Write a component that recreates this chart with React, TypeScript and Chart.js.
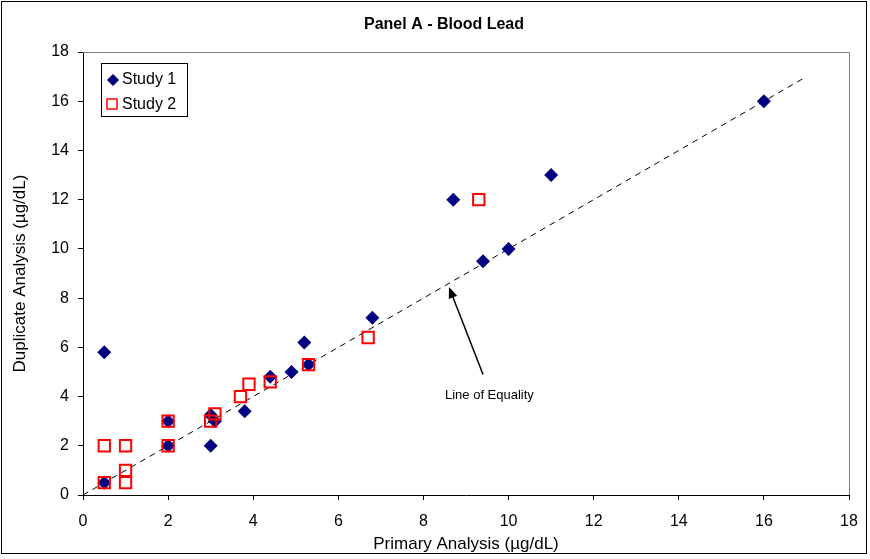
import React, { useEffect, useRef } from 'react';
import { Chart, registerables } from 'chart.js';

Chart.register(...registerables);

const study1X = [0.5, 0.5, 2, 2, 3, 3.0, 3.1, 3.8, 4.4, 4.9, 5.2, 5.3, 6.8, 8.7, 9.4, 10, 11, 16];
const study1Y = [5.8, 0.5, 3, 2, 2, 3.25, 3.0, 3.4, 4.8, 5.0, 6.2, 5.3, 7.2, 12, 9.5, 10, 13, 16];
const study2X = [0.5, 0.5, 1, 1, 1, 2, 2, 3, 3.1, 3.7, 3.9, 4.4, 5.3, 6.7, 9.3];
const study2Y = [2, 0.5, 2, 1, 0.5, 3, 2, 3, 3.3, 4.0, 4.5, 4.6, 5.3, 6.4, 12];
const equalityX = [0, 17];
const equalityY = [0, 17];
const seriesNames = ['Study 1', 'Study 2'];
const chartTitle = 'Panel A - Blood Lead';
const xTitle = 'Primary Analysis (µg/dL)';
const yTitle = 'Duplicate Analysis (µg/dL)';
const annotationText = 'Line of Equality';
const arrowTip = { x: 8.6, y: 8.45 };
const arrowTail = { x: 9.4, y: 4.9 };
const annotationPos = { x: 9.55, y: 4.05 };
const axisMin = 0;
const axisMax = 18;
const axisStep = 2;

const NAVY = '#000080';
const RED = '#FF0000';
const FONT = 'Arial, "Liberation Sans", sans-serif';

const toPoints = (xs: number[], ys: number[]) => xs.map((x, i) => ({ x, y: ys[i] }));

const decorPlugin = {
  id: 'decor',
  beforeDraw(chart: any) {
    const ctx = chart.ctx;
    ctx.save();
    ctx.fillStyle = '#ffffff';
    ctx.fillRect(0, 0, chart.width, chart.height);
    ctx.restore();
  },
  afterDatasetsDraw(chart: any) {
    const ctx = chart.ctx;
    const { chartArea } = chart;
    const xs = chart.scales.x;
    const ys = chart.scales.y;
    ctx.save();
    // plot area border (top / right)
    ctx.strokeStyle = '#808080';
    ctx.lineWidth = 1;
    ctx.beginPath();
    ctx.moveTo(chartArea.left, chartArea.top + 0.5);
    ctx.lineTo(chartArea.right + 0.5, chartArea.top + 0.5);
    ctx.lineTo(chartArea.right + 0.5, chartArea.bottom);
    ctx.stroke();

    // outer frame
    ctx.strokeStyle = '#000000';
    ctx.strokeRect(1.5, 1.5, 865, 552);

    // title
    ctx.fillStyle = '#000000';
    ctx.font = `bold 16px ${FONT}`;
    ctx.textAlign = 'center';
    ctx.textBaseline = 'middle';
    ctx.fillText(chartTitle, 444, 25);

    // axis titles
    ctx.font = `17px ${FONT}`;
    ctx.fillText(xTitle, (chartArea.left + chartArea.right) / 2, 544);
    ctx.save();
    ctx.translate(20, (chartArea.top + chartArea.bottom) / 2);
    ctx.rotate(-Math.PI / 2);
    ctx.fillText(yTitle, 0, 0);
    ctx.restore();

    // arrow annotation
    const tx = xs.getPixelForValue(arrowTip.x);
    const ty = ys.getPixelForValue(arrowTip.y);
    const fx = xs.getPixelForValue(arrowTail.x);
    const fy = ys.getPixelForValue(arrowTail.y);
    const ang = Math.atan2(ty - fy, tx - fx);
    const headLen = 11;
    const headW = 4.5;
    const bx = tx - Math.cos(ang) * headLen;
    const by = ty - Math.sin(ang) * headLen;
    ctx.strokeStyle = '#000000';
    ctx.lineWidth = 1.5;
    ctx.beginPath();
    ctx.moveTo(fx, fy);
    ctx.lineTo(bx, by);
    ctx.stroke();
    ctx.beginPath();
    ctx.moveTo(tx, ty);
    ctx.lineTo(bx + Math.sin(ang) * headW, by - Math.cos(ang) * headW);
    ctx.lineTo(bx - Math.sin(ang) * headW, by + Math.cos(ang) * headW);
    ctx.closePath();
    ctx.fill();
    ctx.font = `13px ${FONT}`;
    ctx.fillText(annotationText, xs.getPixelForValue(annotationPos.x), ys.getPixelForValue(annotationPos.y));

    // legend
    const lx = 101, ly = 63, lw = 86, lh = 53;
    ctx.fillStyle = '#ffffff';
    ctx.fillRect(lx, ly, lw, lh);
    ctx.strokeStyle = '#000000';
    ctx.lineWidth = 1;
    ctx.strokeRect(lx + 0.5, ly + 0.5, lw, lh);
    // diamond
    const dx = 113, dy = 80, dr = 6;
    ctx.fillStyle = NAVY;
    ctx.beginPath();
    ctx.moveTo(dx, dy - dr);
    ctx.lineTo(dx + dr, dy);
    ctx.lineTo(dx, dy + dr);
    ctx.lineTo(dx - dr, dy);
    ctx.closePath();
    ctx.fill();
    // square
    ctx.strokeStyle = RED;
    ctx.lineWidth = 1.5;
    ctx.strokeRect(107, 99, 10, 10);
    ctx.fillStyle = '#000000';
    ctx.font = `16px ${FONT}`;
    ctx.textAlign = 'left';
    ctx.fillText(seriesNames[0], 122, 80);
    ctx.fillText(seriesNames[1], 122, 105);
    ctx.restore();
  },
};

export default function App() {
  const ref = useRef<HTMLCanvasElement | null>(null);
  useEffect(() => {
    if (!ref.current) return;
    const chart = new Chart(ref.current, {
      type: 'scatter',
      data: {
        datasets: [
          {
            label: seriesNames[0],
            data: toPoints(study1X, study1Y),
            pointStyle: 'rectRot',
            pointRadius: 7,
            pointBackgroundColor: NAVY,
            pointBorderColor: NAVY,
            pointBorderWidth: 0,
            showLine: false,
            order: 2,
          },
          {
            label: seriesNames[1],
            data: toPoints(study2X, study2Y),
            pointStyle: 'rect',
            pointRadius: 8,
            pointBackgroundColor: 'rgba(0,0,0,0)',
            pointBorderColor: RED,
            pointBorderWidth: 2,
            showLine: false,
            order: 1,
          },
          {
            type: 'line',
            label: 'equality',
            data: toPoints(equalityX, equalityY),
            borderColor: '#000000',
            borderWidth: 1,
            borderDash: [6, 5],
            pointRadius: 0,
            showLine: true,
            fill: false,
            order: 3,
          } as any,
        ],
      },
      options: {
        animation: false,
        responsive: false,
        maintainAspectRatio: false,
        layout: { padding: { left: 0, top: 52, right: 21, bottom: 0 } },
        plugins: {
          legend: { display: false },
          title: { display: false },
          tooltip: { enabled: false },
        },
        scales: {
          x: {
            type: 'linear',
            min: axisMin,
            max: axisMax,
            ticks: { stepSize: axisStep, color: '#000', font: { family: FONT, size: 16 }, padding: 12 },
            grid: { drawOnChartArea: false, drawTicks: true, tickLength: 5, color: '#000' },
            border: { color: '#000', width: 1 },
            afterFit: (s: any) => { s.height = 64; },
          },
          y: {
            type: 'linear',
            min: axisMin,
            max: axisMax,
            ticks: { stepSize: axisStep, color: '#000', font: { family: FONT, size: 16 }, padding: 9 },
            grid: { drawOnChartArea: false, drawTicks: true, tickLength: 5, color: '#000' },
            border: { color: '#000', width: 1 },
            afterFit: (s: any) => { s.width = 83; },
          },
        },
      },
      plugins: [decorPlugin],
    });
    return () => chart.destroy();
  }, []);
  return (
    <div style={{ position: 'absolute', left: 0, top: 0, width: 870, height: 559 }}>
      <canvas ref={ref} width={870} height={559} style={{ width: 870, height: 559 }} />
    </div>
  );
}
